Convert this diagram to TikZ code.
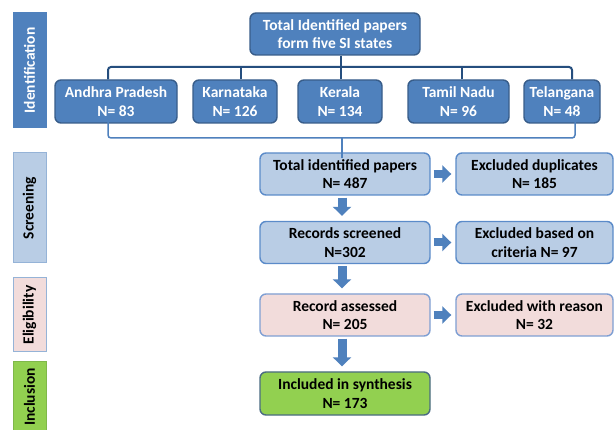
\documentclass[tikz,border=0pt]{standalone}
\usepackage{fontspec}
\setmainfont{Carlito}
\usetikzlibrary{arrows.meta}
\definecolor{dblue}{HTML}{4F81BD}
\definecolor{dbluebd}{HTML}{385D8A}
\definecolor{lblue}{HTML}{B9CDE5}
\definecolor{lbluebd}{HTML}{5B8BC9}
\definecolor{pinkf}{HTML}{F2DCDB}
\definecolor{pinkbd}{HTML}{7F9FD3}
\definecolor{greenf}{HTML}{92D050}
\definecolor{greenbd}{HTML}{4A6B82}
\definecolor{navy}{HTML}{254E7E}
\definecolor{sidebd}{HTML}{95B3D7}
\definecolor{greenside}{HTML}{7FB84A}
\tikzset{
  box/.style={rounded corners=6pt, line width=1.4pt, align=center, inner sep=0pt,
    font=\bfseries\fontsize{15.5}{18.5}\selectfont},
  darkbox/.style={box, fill=dblue, draw=dbluebd, text=white},
  bluebox/.style={box, fill=lblue, draw=lbluebd, minimum width=170pt, minimum height=42pt},
  pinkbox/.style={box, fill=pinkf, draw=pinkbd, minimum width=170pt, minimum height=42pt},
  greenbox/.style={box, fill=greenf, draw=greenbd, minimum width=170pt, minimum height=43pt},
  side/.style={rotate=90, minimum height=33pt, inner sep=0pt, line width=1pt,
    font=\bfseries\fontsize{15.5}{18}\selectfont},
  brk/.style={draw=navy, line width=2pt, rounded corners=3pt},
  brk2/.style={draw=dblue, line width=1.5pt, rounded corners=3pt},
  rarrow/.style={draw=dblue, line width=8pt,
    -{Triangle[length=9pt,width=17pt]}, shorten <=3pt, shorten >=4pt},
  darrow/.style={draw=dblue, line width=9pt,
    -{Triangle[length=9pt,width=18pt]}, shorten <=2pt, shorten >=5pt},
}
\begin{document}
\begin{tikzpicture}[x=1pt,y=-1pt]
\useasboundingbox (0,0) rectangle (616,430);
\fill[white] (0,0) rectangle (616,430);

% side labels
\node[side, fill=dblue, draw=dblue, text=white, minimum width=115pt] (sid) at (29.5,70.5) {Identification};
\node[side, fill=lblue, draw=sidebd, minimum width=110pt] (sscr) at (29.5,208) {Screening};
\node[side, fill=pinkf, draw=sidebd, minimum width=74pt] (selig) at (29.5,315) {Eligibility};
\node[side, fill=greenf, draw=greenside, minimum width=70pt] (sinc) at (29.5,397) {Inclusion};

% identification
\node[darkbox, minimum width=170pt, minimum height=42pt] (top) at (335,34) {Total Identified papers\\form five SI states};
\node[darkbox, minimum width=122pt, minimum height=43pt] (ap) at (116,101.5) {Andhra Pradesh\\N= 83};
\node[darkbox, minimum width=84pt, minimum height=43pt] (ka) at (235,101.5) {Karnataka\\N= 126};
\node[darkbox, minimum width=84pt, minimum height=43pt] (ke) at (340,101.5) {Kerala\\N= 134};
\node[darkbox, minimum width=101pt, minimum height=43pt] (tn) at (458.5,101.5) {Tamil Nadu\\N= 96};
\node[darkbox, minimum width=76pt, minimum height=43pt] (tg) at (562,101.5) {Telangana\\N= 48};

% top bracket
\coordinate (tj) at (341,67);
\draw[brk] ([xshift=6pt]top.south) -- (tj);
\draw[brk] ([xshift=-8pt]ap.north) |- (tj) -| ([xshift=10pt]tg.north);
\draw[brk] ([xshift=6pt]ka.north) -- ([xshift=6pt]ka.north |- tj);
\draw[brk] ([xshift=1pt]ke.north) -- ([xshift=1pt]ke.north |- tj);
\draw[brk] ([xshift=3.5pt]tn.north) -- ([xshift=3.5pt]tn.north |- tj);

% screening
\node[bluebox] (tot) at (345,174) {Total identified papers\\N= 487};
\node[bluebox, minimum width=157pt] (dup) at (534.5,174) {Excluded duplicates\\N= 185};
\node[bluebox] (rec) at (345,242.5) {Records screened\\N=302};
\node[bluebox, minimum width=157pt] (crit) at (534.5,242.5) {Excluded based on\\criteria N= 97};

% bottom bracket
\coordinate (bj) at (342,138);
\draw[brk2] ([xshift=-8pt,yshift=6pt]ap.south) |- (bj) -| ([xshift=13pt,yshift=9pt]tg.south);
\draw[brk2] (bj) -- ([xshift=-3pt,yshift=-6pt]tot.north);

% eligibility
\node[pinkbox] (ass) at (345,315) {Record assessed\\N= 205};
\node[pinkbox, minimum width=157pt] (rea) at (534.5,315) {Excluded with reason\\N= 32};

% inclusion
\node[greenbox] (inc) at (345,393.5) {Included in synthesis\\N= 173};

% block arrows
\draw[rarrow] (tot.east) -- (dup.west);
\draw[rarrow] (rec.east) -- (crit.west);
\draw[rarrow] (ass.east) -- (rea.west);
\draw[darrow] ([xshift=-3pt]tot.south) -- ([xshift=-3pt]rec.north);
\draw[darrow] ([xshift=-3pt]rec.south) -- ([xshift=-3pt]ass.north);
\draw[darrow] ([xshift=-3pt]ass.south) -- ([xshift=-3pt]inc.north);
\end{tikzpicture}
\end{document}
